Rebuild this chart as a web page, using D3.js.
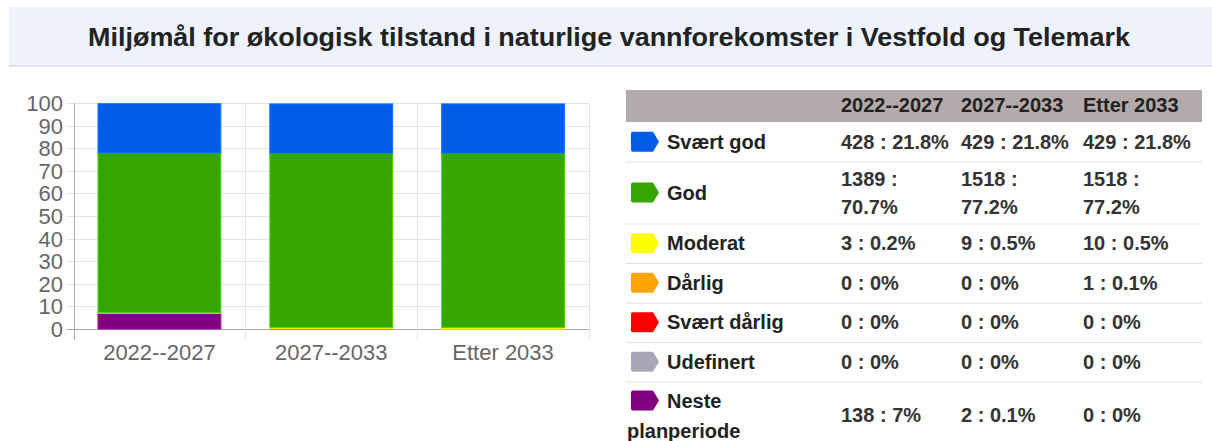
<!DOCTYPE html>
<html>
<head>
<meta charset="utf-8">
<script src="https://cdn.jsdelivr.net/npm/d3@7"></script>
<style>
  html, body { margin: 0; padding: 0; background: #fff; }
  svg { display: block; font-family: "Liberation Sans", Arial, sans-serif; }
</style>
</head>
<body>
<svg id="chart" width="1212" height="441"></svg>
<script>
// periods on the x axis / table columns
const periods = ['2022--2027', '2027--2033', 'Etter 2033'];
const classes = ['Svært god', 'God', 'Moderat', 'Dårlig', 'Svært dårlig', 'Udefinert', 'Neste planperiode'];
const classColors = ['#005ce6', '#35a500', '#ffff00', '#ffa500', '#ff0000', '#a9a7b5', '#800080'];

// counts per class, one value per period
const countSvaertGod = [428, 429, 429];
const countGod = [1389, 1518, 1518];
const countModerat = [3, 9, 10];
const countDarlig = [0, 0, 1];
const countSvaertDarlig = [0, 0, 0];
const countUdefinert = [0, 0, 0];
const countNeste = [138, 2, 0];

// share (%) per class, one value per period
const pctSvaertGod = [21.8, 21.8, 21.8];
const pctGod = [70.7, 77.2, 77.2];
const pctModerat = [0.2, 0.5, 0.5];
const pctDarlig = [0, 0, 0.1];
const pctSvaertDarlig = [0, 0, 0];
const pctUdefinert = [0, 0, 0];
const pctNeste = [7, 0.1, 0];

const yTicks = [0, 10, 20, 30, 40, 50, 60, 70, 80, 90, 100];

const counts = [countSvaertGod, countGod, countModerat, countDarlig, countSvaertDarlig, countUdefinert, countNeste];
const pcts = [pctSvaertGod, pctGod, pctModerat, pctDarlig, pctSvaertDarlig, pctUdefinert, pctNeste];

const svg = d3.select('#chart');

// title band
svg.append('rect').attr('x', 9).attr('y', 7).attr('width', 1203).attr('height', 58).attr('fill', '#eef2fd');
svg.append('rect').attr('x', 9).attr('y', 65).attr('width', 1203).attr('height', 2).attr('fill', '#dfe2ea');
svg.append('text')
    .attr('x', 609).attr('y', 46)
    .attr('text-anchor', 'middle')
    .attr('font-size', 26).attr('font-weight', 'bold').attr('fill', '#222')
    .attr('textLength', 1042).attr('lengthAdjust', 'spacingAndGlyphs')
    .text('Miljømål for økologisk tilstand i naturlige vannforekomster i Vestfold og Telemark');

// ---- stacked bar chart ----
const x = d3.scaleBand().domain(periods).range([73.5, 589]).padding(0);
const y = d3.scaleLinear().domain([0, 100]).range([329, 103]);
const barW = x.bandwidth() * 0.715;

const g = svg.append('g');

// horizontal grid + y ticks
g.selectAll('.hgrid').data(yTicks).enter().append('line')
    .attr('x1', 66.5).attr('x2', 589)
    .attr('y1', d => Math.round(y(d)) + 0.5).attr('y2', d => Math.round(y(d)) + 0.5)
    .attr('stroke', d => d === 0 ? '#aaa' : '#e4e4e4');

// vertical grid at band edges
const edges = periods.map(p => x(p)).concat([x.range()[1]]);
g.selectAll('.vgrid').data(edges).enter().append('line')
    .attr('x1', d => Math.round(d) + 0.5).attr('x2', d => Math.round(d) + 0.5)
    .attr('y1', 103).attr('y2', 340)
    .attr('stroke', (d, i) => i === 0 ? '#aaa' : '#e4e4e4');

g.selectAll('.ylab').data(yTicks).enter().append('text')
    .attr('x', 63).attr('y', d => y(d) + 8)
    .attr('text-anchor', 'end')
    .attr('font-size', 22).attr('fill', '#666')
    .text(d => d);

g.selectAll('.xlab').data(periods).enter().append('text')
    .attr('x', d => x(d) + x.bandwidth() / 2).attr('y', 360)
    .attr('text-anchor', 'middle')
    .attr('font-size', 22).attr('fill', '#666')
    .text(d => d);

// stack from the bottom: last class first
const stackOrder = d3.range(classes.length).reverse();
const rows = periods.map((p, j) => {
    const r = { period: p };
    classes.forEach((c, i) => { r[c] = pcts[i][j]; });
    return r;
});
const stack = d3.stack().keys(stackOrder.map(i => classes[i]))(rows);

stack.forEach(layer => {
    const ci = classes.indexOf(layer.key);
    g.selectAll(null).data(layer).enter().append('rect')
        .attr('x', d => x(d.data.period) + (x.bandwidth() - barW) / 2)
        .attr('width', barW)
        .attr('y', d => y(d[1]))
        .attr('height', d => Math.max(0, y(d[0]) - y(d[1])))
        .attr('fill', classColors[ci])
        .attr('stroke', d3.color(classColors[ci]).brighter(0.8))
        .attr('stroke-width', d => (d[1] - d[0]) > 0 ? 1 : 0);
});

// ---- table ----
const tLeft = 626, tRight = 1202;
const colX = [626, 835, 955, 1077];
const textX = [632, 841, 961, 1083];
const fs = 20;
const t = svg.append('g');

t.append('rect').attr('x', tLeft).attr('y', 90).attr('width', tRight - tLeft).attr('height', 32).attr('fill', '#b3abab');
t.selectAll('.hd').data(periods).enter().append('text')
    .attr('x', (d, i) => textX[i + 1]).attr('y', 112)
    .attr('font-size', fs).attr('font-weight', 'bold').attr('fill', '#222')
    .text(d => d);

// measure helper
const probe = svg.append('text').attr('font-size', fs).attr('font-weight', 'bold').attr('visibility', 'hidden');
function width(s) { probe.text(s); return probe.node().getComputedTextLength(); }
function avail(j) { return (j < 2 ? colX[j + 2] : tRight) - textX[j + 1] - 4; }

let rowTop = 122;
classes.forEach((c, i) => {
    const vals = periods.map((p, j) => counts[i][j] + ' : ' + pcts[i][j] + '%');
    const valWrap = vals.some((v, j) => width(v) > avail(j));
    const labWrap = width(c) > colX[1] - 667 - 4;
    const h = labWrap ? 66 : (valWrap ? 62 : 39.5);
    const cy = rowTop + h / 2;

    t.append('line').attr('x1', tLeft).attr('x2', tRight)
        .attr('y1', rowTop + 0.5).attr('y2', rowTop + 0.5)
        .attr('stroke', i === 0 ? '#fff' : '#e2e2e2');

    // legend icon: pentagon arrow
    const iy = labWrap ? rowTop + 19 : cy;
    t.append('path')
        .attr('d', `M633,${iy - 10} L653,${iy - 10} L659,${iy} L653,${iy + 10} L633,${iy + 10} Q631,${iy + 10} 631,${iy + 8} L631,${iy - 8} Q631,${iy - 10} 633,${iy - 10} Z`)
        .attr('fill', classColors[i]);

    if (labWrap) {
        const parts = c.split(' ');
        t.append('text').attr('x', 667).attr('y', rowTop + 26)
            .attr('font-size', fs).attr('font-weight', 'bold').attr('fill', '#222').text(parts[0]);
        t.append('text').attr('x', 627).attr('y', rowTop + 56)
            .attr('font-size', fs).attr('font-weight', 'bold').attr('fill', '#222').text(parts.slice(1).join(' '));
    } else {
        t.append('text').attr('x', 667).attr('y', cy + 7)
            .attr('font-size', fs).attr('font-weight', 'bold').attr('fill', '#222').text(c);
    }

    vals.forEach((v, j) => {
        if (width(v) > avail(j)) {
            const k = v.indexOf(':') + 1;
            t.append('text').attr('x', textX[j + 1]).attr('y', cy - 14 + 7)
                .attr('font-size', fs).attr('font-weight', 'bold').attr('fill', '#333').text(v.slice(0, k));
            t.append('text').attr('x', textX[j + 1]).attr('y', cy + 14 + 7)
                .attr('font-size', fs).attr('font-weight', 'bold').attr('fill', '#333').text(v.slice(k + 1));
        } else {
            t.append('text').attr('x', textX[j + 1]).attr('y', cy + 7)
                .attr('font-size', fs).attr('font-weight', 'bold').attr('fill', '#333').text(v);
        }
    });

    rowTop += h;
});
probe.remove();
</script>
</body>
</html>
